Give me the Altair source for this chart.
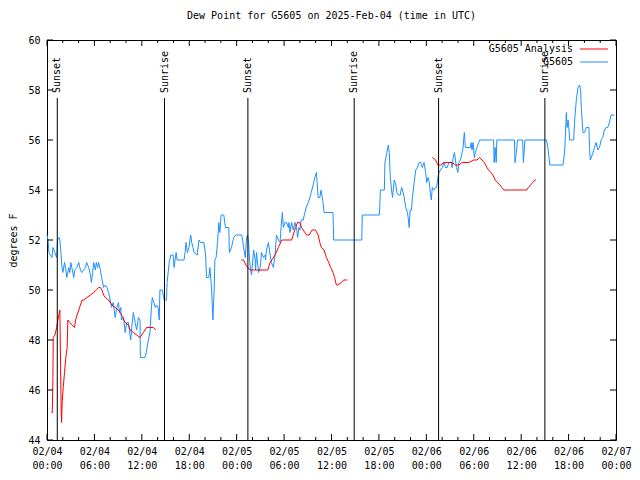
import altair as alt
import pandas as pd

# ---------------- data ----------------
# hours after 2025-02-04 00:00 UTC, dew point in degrees F
blue_h = [0.0,0.13,0.25,0.63,0.75,1.0,1.22,1.34,1.51,1.63,
          1.76,1.89,2.01,2.22,2.39,2.51,2.76,2.89,3.02,3.14,
          3.39,3.52,3.77,4.02,4.23,4.40,4.65,4.86,5.03,5.28,
          5.49,5.62,5.78,5.91,6.12,6.25,6.41,6.53,6.75,6.91,
          7.16,7.38,7.58,7.79,8.0,8.17,8.38,8.63,8.83,9.05,
          9.17,9.34,9.42,9.68,9.89,10.09,10.3,10.43,10.59,10.72,
          10.93,11.15,11.35,11.56,11.77,11.81,12.19,12.4,12.57,12.82,
          13.03,13.19,13.32,13.53,13.70,13.86,14.07,14.2,14.29,14.58,
          14.83,15.12,15.2,15.46,15.67,15.96,16.08,16.21,16.34,16.46,
          17.34,17.47,17.59,17.76,17.97,18.18,18.31,18.47,18.6,19.01,
          19.23,19.44,19.85,20.07,20.19,20.48,20.61,20.82,20.99,21.15,
          21.24,21.4,21.58,21.74,21.87,22.03,22.37,22.58,23.0,23.08,
          23.34,23.62,23.88,24.63,24.75,24.88,25.09,25.26,25.38,25.51,
          25.63,25.76,25.89,26.14,26.35,26.39,26.51,26.77,26.98,27.14,
          27.39,27.6,27.65,27.77,28.02,28.24,28.4,28.65,28.86,29.03,
          29.28,29.49,29.62,29.78,29.91,30.12,30.32,30.54,30.62,30.75,
          30.95,31.16,31.38,31.58,31.71,31.88,32.0,32.17,32.42,32.63,
          32.8,33.05,33.26,33.43,33.68,33.89,34.09,34.18,34.31,34.52,
          34.68,34.93,35.06,36.19,36.28,39.83,39.9,42.06,42.19,42.69,
          42.76,43.01,43.19,43.31,43.44,43.6,43.73,43.94,44.14,44.27,
          44.45,44.7,44.86,44.99,45.2,45.4,45.61,45.74,45.83,45.95,
          46.12,46.24,46.46,46.66,46.87,47.08,47.29,47.5,47.71,47.92,
          48.04,48.22,48.38,48.5,48.63,48.76,48.97,49.17,49.3,49.47,
          49.6,49.8,50.01,50.23,50.43,50.64,50.85,51.14,51.27,51.4,
          51.56,51.69,51.81,51.99,52.12,52.32,52.53,52.65,52.74,52.81,
          52.94,53.57,53.66,53.78,53.91,54.07,54.2,54.41,54.62,54.75,
          56.51,56.58,56.71,56.84,56.92,59.15,59.22,59.4,59.53,60.19,
          60.28,60.48,63.21,63.42,63.62,65.3,65.51,65.72,65.81,65.94,
          66.06,66.14,66.64,66.77,66.98,67.19,67.39,67.52,67.61,67.82,
          68.02,68.23,68.57,68.65,68.74,68.99,69.28,69.49,69.71,69.91,
          70.12,70.33,70.53,70.75,70.96,71.16,71.37,71.79]
blue_v = [52.2,52.0,51.5,51.3,51.7,51.5,51.3,52.0,52.1,52.0,
          51.5,50.9,50.7,51.1,50.8,50.5,50.9,50.7,51.1,50.9,
          50.5,50.8,50.9,51.1,50.8,50.7,50.8,50.9,51.1,50.9,
          50.6,50.3,50.7,51.1,50.8,51.1,50.9,51.1,50.8,50.5,
          50.1,50.2,50.1,49.9,49.6,49.3,49.5,48.9,49.3,49.5,
          49.1,49.3,48.8,48.9,48.3,48.7,48.7,48.4,48.0,48.5,
          49.1,48.7,48.4,48.9,48.8,47.3,47.3,47.3,47.5,48.0,
          48.3,49.2,49.7,49.5,49.3,49.4,49.3,48.8,50.0,50.0,
          49.6,49.6,50.3,51.1,51.4,51.4,50.9,51.2,51.5,51.2,
          51.2,51.5,51.9,51.5,51.7,52.2,51.9,51.7,51.5,51.4,
          52.0,51.9,51.9,51.4,50.5,50.5,50.9,50.1,48.8,50.0,
          51.2,51.3,51.9,52.7,52.3,53.0,53.0,52.5,52.5,51.5,
          51.7,52.1,52.2,52.2,52.0,51.7,51.3,52.1,52.2,51.9,
          51.2,50.8,50.6,51.6,51.2,50.8,51.5,50.7,50.9,51.5,
          51.3,51.4,51.2,51.6,51.9,51.4,51.1,50.9,51.4,52.2,
          52.0,51.9,52.5,53.1,52.5,52.7,52.7,52.5,52.7,52.3,
          52.7,52.4,52.7,52.5,52.1,52.5,52.4,52.8,52.8,53.1,
          53.3,53.5,53.7,53.9,54.2,54.5,54.7,54.3,53.7,53.7,
          54.0,53.5,53.1,53.1,52.0,52.0,53.0,53.0,54.0,54.0,
          55.1,55.5,55.8,55.5,54.5,54.0,53.7,54.4,54.2,53.9,
          53.8,53.8,54.1,54.0,53.7,53.3,53.1,52.8,52.5,53.2,
          53.2,53.7,54.3,54.8,54.9,55.1,55.1,54.9,55.1,54.7,
          54.3,54.5,54.3,53.9,53.6,54.1,54.0,54.1,54.1,54.5,
          54.7,54.8,54.9,55.1,54.9,54.9,55.1,55.1,54.9,55.3,
          55.5,55.2,54.9,54.7,55.1,55.2,55.5,55.7,56.1,56.3,
          55.7,55.7,55.9,55.6,55.9,55.3,55.5,55.7,55.9,56.0,
          56.0,55.1,55.7,55.1,56.0,56.0,55.1,55.5,56.0,56.0,
          55.1,56.0,56.0,55.6,55.0,55.0,55.6,57.1,56.5,56.8,
          56.4,56.0,56.0,56.8,57.6,58.1,58.2,58.0,57.3,56.3,
          56.3,56.5,56.5,55.7,55.2,55.4,55.7,55.9,55.6,55.7,
          56.0,56.1,56.4,56.5,56.5,56.7,57.0,57.0]

red_h1 = [0.54,0.67,0.75,0.79,1.0,1.22,1.38,1.51,1.63,1.72,
          1.8,1.85,1.92,2.05,2.22,2.35,2.55,2.64,2.89,3.18,
          3.48,3.61,3.81,4.02,4.23,4.44,4.65,5.06,5.49,5.91,
          6.25,6.53,6.75,6.95,7.16,7.38,7.79,8.21,8.63,9.05,
          9.26,9.59,9.89,10.3,10.52,10.93,11.35,11.77,12.19,12.6,
          13.03,13.45,13.78]
red_v1 = [45.1,45.1,46.5,48.1,48.2,48.5,48.8,49.0,49.2,46.9,
          45.1,44.7,45.5,46.1,46.7,47.2,47.7,48.8,48.7,48.6,
          48.5,48.8,49.0,49.2,49.4,49.6,49.6,49.7,49.8,49.9,
          50.0,50.1,50.1,50.0,49.8,49.7,49.6,49.4,49.3,49.2,
          49.1,48.9,48.7,48.6,48.4,48.3,48.2,48.1,48.3,48.5,
          48.5,48.5,48.4]
red_h2 = [24.59,24.88,25.17,25.42,25.72,26.14,27.93,28.24,28.86,29.28,
          29.7,30.95,31.16,31.45,31.7,32.0,32.21,32.42,32.84,33.17,
          33.55,33.97,34.31,34.52,34.72,35.06,35.35,35.65,35.9,36.19,
          36.4,36.61,36.82,37.23,37.57,37.99]
red_v2 = [51.2,51.2,51.0,50.9,50.8,50.8,50.8,51.1,51.4,51.7,
          52.0,52.0,52.2,52.5,52.7,52.7,52.5,52.4,52.2,52.2,
          52.4,52.4,52.2,51.9,51.7,51.6,51.3,51.1,50.9,50.7,
          50.5,50.2,50.2,50.3,50.4,50.4]
red_h3 = [48.76,49.17,49.47,49.8,50.23,50.73,51.27,51.69,52.12,52.53,
          53.37,54.0,54.41,54.75,55.04,55.33,55.67,55.88,56.17,56.42,
          56.71,57.01,57.34,57.55,57.84,59.22,60.28,60.7,60.91,61.2,
          61.45,61.74,61.86]
red_v3 = [55.3,55.2,55.0,55.0,55.1,55.1,55.1,55.0,55.0,55.1,
          55.1,55.2,55.2,55.3,55.2,55.1,54.9,54.8,54.7,54.6,
          54.4,54.3,54.2,54.1,54.0,54.0,54.0,54.0,54.1,54.2,
          54.3,54.4,54.4]

sun_h = [1.3, 14.87, 25.42, 38.87, 49.55, 63.0]
sun_label = ["Sunset", "Sunrise", "Sunset", "Sunrise", "Sunset", "Sunrise"]

series_names = ["G5605 Analysis", "G5605"]
series_colors = ["#ff0000", "#1e90ff"]

y_ticks = [44, 46, 48, 50, 52, 54, 56, 58, 60]
x_major_h = list(range(0, 73, 6))
x_minor_h = [h for h in range(0, 73, 2) if h % 6 != 0]

TITLE = "Dew Point for G5605 on 2025-Feb-04 (time in UTC)"
Y_TITLE = "degrees F"

# ---------------- helpers ----------------
BASE = pd.Timestamp("2025-02-04T00:00:00Z")


def iso(hours):
    return [(BASE + pd.Timedelta(hours=float(h))).strftime("%Y-%m-%dT%H:%M:%SZ") for h in hours]


def ms(h):
    return int((BASE + pd.Timedelta(hours=float(h))).timestamp() * 1000)


W, H = 569, 400
FONT = "DejaVu Sans Mono"

obs = pd.DataFrame({"t": iso(blue_h[:len(blue_v)]), "v": blue_v[:len(blue_h)]})
rh = red_h1 + red_h2 + red_h3
rv = red_v1 + red_v2 + red_v3
seg = [1] * len(red_h1) + [2] * len(red_h2) + [3] * len(red_h3)
ana = pd.DataFrame({"t": iso(rh), "v": rv, "seg": seg})
sun = pd.DataFrame({"t": iso(sun_h), "label": sun_label})
maj = pd.DataFrame({"t": iso(x_major_h)})
mino = pd.DataFrame({"t": iso(x_minor_h)})
yt = pd.DataFrame({"v": y_ticks})

x_scale = alt.Scale(type="utc", domain=[ms(0), ms(72)], nice=False)
y_scale = alt.Scale(domain=[44, 60], nice=False, zero=False)

x_enc = alt.X(
    "t:T",
    scale=x_scale,
    title=None,
    axis=alt.Axis(
        values=[ms(h) for h in x_major_h],
        labelExpr="[utcFormat(datum.value, '%m/%d'), utcFormat(datum.value, '%H:%M')]",
        labelPadding=6,
        labelLineHeight=14,
        labelFlush=False,
    ),
)
y_enc = alt.Y(
    "v:Q",
    scale=y_scale,
    axis=alt.Axis(
        values=y_ticks,
        title=Y_TITLE,
        titleX=-34,
        titleY=H / 2,
        titleAngle=270,
        titleAlign="center",
        titleBaseline="middle",
        labelPadding=7,
    ),
)

blue_line = alt.Chart(obs).mark_line(color=series_colors[1], strokeWidth=1).encode(x=x_enc, y=y_enc)
red_line = alt.Chart(ana).mark_line(color=series_colors[0], strokeWidth=1).encode(
    x=x_enc, y=y_enc, detail="seg:N"
)

sun_rule = alt.Chart(sun).mark_rule(color="black", strokeWidth=1).encode(
    x=x_enc, y=alt.value(58), y2=alt.value(H)
)
sun_text = alt.Chart(sun).mark_text(
    angle=270, align="left", baseline="middle", font=FONT, fontSize=10, color="black"
).encode(x=x_enc, y=alt.value(53), text="label:N")

tick_bot_maj = alt.Chart(maj).mark_rule(color="black").encode(x=x_enc, y=alt.value(H), y2=alt.value(H - 6))
tick_top_maj = alt.Chart(maj).mark_rule(color="black").encode(x=x_enc, y=alt.value(0), y2=alt.value(6))
tick_bot_min = alt.Chart(mino).mark_rule(color="black").encode(x=x_enc, y=alt.value(H), y2=alt.value(H - 3))
tick_top_min = alt.Chart(mino).mark_rule(color="black").encode(x=x_enc, y=alt.value(0), y2=alt.value(3))
tick_left = alt.Chart(yt).mark_rule(color="black").encode(y=y_enc, x=alt.value(0), x2=alt.value(6))
tick_right = alt.Chart(yt).mark_rule(color="black").encode(y=y_enc, x=alt.value(W), x2=alt.value(W - 6))

leg1_text = alt.Chart(pd.DataFrame({"label": [series_names[0]]})).mark_text(
    align="right", baseline="middle", font=FONT, fontSize=10, color="black"
).encode(x=alt.value(526), y=alt.value(9), text="label:N")
leg2_text = alt.Chart(pd.DataFrame({"label": [series_names[1]]})).mark_text(
    align="right", baseline="middle", font=FONT, fontSize=10, color="black"
).encode(x=alt.value(526), y=alt.value(22), text="label:N")
leg1_line = alt.Chart(pd.DataFrame({"label": [series_names[0]]})).mark_rule(
    color=series_colors[0], strokeWidth=1
).encode(x=alt.value(533), x2=alt.value(561), y=alt.value(9))
leg2_line = alt.Chart(pd.DataFrame({"label": [series_names[1]]})).mark_rule(
    color=series_colors[1], strokeWidth=1
).encode(x=alt.value(533), x2=alt.value(561), y=alt.value(22))

chart = (
    alt.layer(
        blue_line, red_line, sun_rule, sun_text,
        tick_bot_maj, tick_top_maj, tick_bot_min, tick_top_min, tick_left, tick_right,
        leg1_text, leg2_text, leg1_line, leg2_line,
    )
    .properties(
        width=W,
        height=H,
        title=alt.TitleParams(TITLE, font=FONT, fontSize=10, fontWeight="normal", anchor="middle", offset=14, color="black"),
        autosize=alt.AutoSizeParams(type="none"),
        padding={"left": 39, "top": 32, "right": 16, "bottom": 30},
        background="white",
    )
    .configure_view(stroke="black", strokeWidth=1)
    .configure_axis(
        domain=False,
        grid=False,
        ticks=False,
        tickSize=0,
        labelFont=FONT,
        labelFontSize=10,
        labelColor="black",
        titleFont=FONT,
        titleFontSize=10,
        titleFontWeight="normal",
        titleColor="black",
    )
)

chart.save("out.html", embed_options={"renderer": "svg", "actions": False})
